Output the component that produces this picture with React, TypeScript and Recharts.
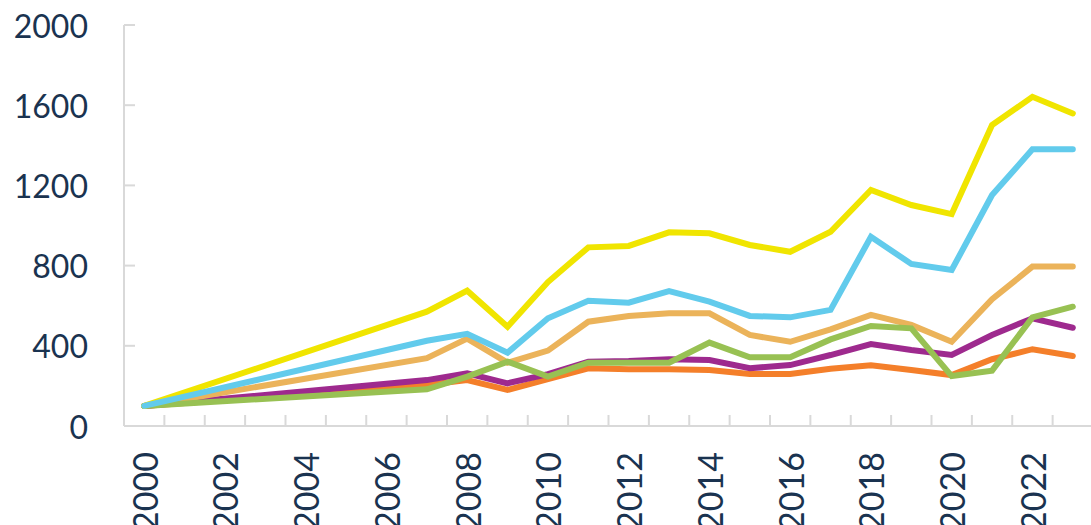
import { LineChart, Line, XAxis, YAxis } from "recharts";

const years = [
  2000, 2001, 2002, 2003, 2004, 2005, 2006, 2007, 2008, 2009, 2010, 2011,
  2012, 2013, 2014, 2015, 2016, 2017, 2018, 2019, 2020, 2021, 2022, 2023,
];

// 2001-2006 have no values, the lines run straight from 2000 to 2007
const yellow = [100, null, null, null, null, null, null, 570, 675, 495, 718, 891, 898, 966, 961, 903, 869, 969, 1177, 1102, 1057, 1501, 1642, 1559];
const blue = [100, null, null, null, null, null, null, 425, 460, 366, 537, 625, 615, 673, 620, 549, 542, 579, 944, 808, 778, 1152, 1380, 1380];
const tan = [100, null, null, null, null, null, null, 338, 436, 316, 376, 520, 549, 562, 562, 454, 420, 482, 554, 504, 420, 632, 795, 795];
const green = [100, null, null, null, null, null, null, 183, 246, 321, 246, 316, 316, 316, 416, 343, 343, 432, 499, 487, 249, 276, 542, 595];
const purple = [100, null, null, null, null, null, null, 229, 263, 213, 259, 321, 324, 333, 329, 288, 304, 354, 409, 379, 354, 454, 537, 490];
const orange = [100, null, null, null, null, null, null, 205, 229, 180, 234, 288, 283, 283, 279, 259, 259, 286, 303, 279, 254, 333, 383, 349];

const yTicks = [0, 400, 800, 1200, 1600, 2000];

const data = years.map((year, i) => ({
  year,
  yellow: yellow[i],
  blue: blue[i],
  tan: tan[i],
  green: green[i],
  purple: purple[i],
  orange: orange[i],
}));

const TEXT = "#1a3350";
const AXIS = "#d9d9d9";
const FONT = "Lato, sans-serif";

const WIDTH = 1093;
const LEFT = 124;
const HALF_BAND = (WIDTH - LEFT) / years.length / 2;

function YTick(props: any) {
  const { x, y, payload } = props;
  return (
    <g>
      <line x1={x} x2={x + 11} y1={y} y2={y} stroke={AXIS} strokeWidth={2} />
      <text
        x={x - 36}
        y={y}
        textAnchor="end"
        dominantBaseline="central"
        fill={TEXT}
        fontSize={32}
        fontFamily={FONT}
      >
        {payload.value}
      </text>
    </g>
  );
}

function XTick(props: any) {
  const { x, y, payload } = props;
  const showLabel = payload.value % 2 === 0;
  return (
    <g>
      <line
        x1={x + HALF_BAND}
        x2={x + HALF_BAND}
        y1={y}
        y2={y - 11}
        stroke={AXIS}
        strokeWidth={2}
      />
      {showLabel && (
        <text
          x={x}
          y={y + 26}
          transform={`rotate(-90 ${x} ${y + 26})`}
          textAnchor="end"
          dominantBaseline="central"
          fill={TEXT}
          fontSize={34}
          fontFamily={FONT}
        >
          {payload.value}
        </text>
      )}
    </g>
  );
}

const lineProps = {
  type: "linear" as const,
  strokeWidth: 6,
  dot: false,
  activeDot: false,
  connectNulls: true,
  isAnimationActive: false,
  strokeLinecap: "round" as const,
};

export default function App() {
  return (
    <div
      style={{
        position: "absolute",
        left: 0,
        top: 0,
        width: 1091,
        height: 525,
        overflow: "hidden",
        background: "#fff",
      }}
    >
      <LineChart
        width={WIDTH}
        height={525}
        data={data}
        margin={{ top: 25, right: 0, bottom: 0, left: 0 }}
      >
        <XAxis
          dataKey="year"
          type="number"
          domain={[1999.5, 2023.5]}
          ticks={years}
          interval={0}
          height={99}
          tickSize={0}
          tickMargin={0}
          tickLine={false}
          axisLine={{ stroke: AXIS, strokeWidth: 2 }}
          tick={<XTick />}
        />
        <YAxis
          domain={[0, 2000]}
          ticks={yTicks}
          width={LEFT}
          tickSize={0}
          tickMargin={0}
          tickLine={false}
          axisLine={{ stroke: AXIS, strokeWidth: 2 }}
          tick={<YTick />}
        />
        <Line {...lineProps} dataKey="orange" stroke="#f47f2a" />
        <Line {...lineProps} dataKey="purple" stroke="#9e2a8e" />
        <Line {...lineProps} dataKey="tan" stroke="#ebb35a" />
        <Line {...lineProps} dataKey="green" stroke="#98c153" />
        <Line {...lineProps} dataKey="yellow" stroke="#f0e500" />
        <Line {...lineProps} dataKey="blue" stroke="#62cbec" />
      </LineChart>
    </div>
  );
}
